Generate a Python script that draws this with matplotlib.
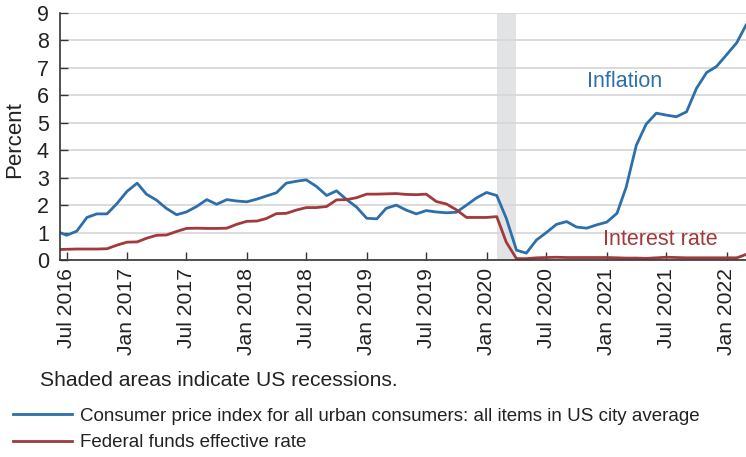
import numpy as np
import pandas as pd
import matplotlib
matplotlib.use("Agg")
import matplotlib.pyplot as plt
import matplotlib.dates as mdates

plt.rcParams['font.family'] = ['Liberation Sans', 'DejaVu Sans']

# monthly, Jun 2016 - Mar 2022
months = pd.date_range("2016-06-01", "2022-03-01", freq="MS")

cpi = [
    1.05, 0.90, 1.05, 1.55, 1.68, 1.68, 2.05,                                  # 2016
    2.50, 2.80, 2.40, 2.18, 1.88, 1.65, 1.75, 1.95, 2.20, 2.03, 2.20, 2.15,    # 2017
    2.12, 2.22, 2.33, 2.45, 2.80, 2.87, 2.92, 2.68, 2.35, 2.52, 2.20, 1.93,    # 2018
    1.52, 1.50, 1.88, 2.00, 1.82, 1.68, 1.80, 1.75, 1.72, 1.74, 2.00, 2.26,    # 2019
    2.46, 2.35, 1.52, 0.36, 0.25, 0.73, 1.00, 1.30, 1.40, 1.20, 1.16, 1.28,    # 2020
    1.38, 1.70, 2.65, 4.18, 4.95, 5.35, 5.28, 5.22, 5.40, 6.25, 6.83, 7.05,    # 2021
    7.48, 7.92, 8.56,                                                          # 2022
]

fedfunds = [
    0.38, 0.39, 0.40, 0.40, 0.40, 0.41, 0.54,
    0.65, 0.66, 0.79, 0.90, 0.91, 1.04, 1.15, 1.16, 1.15, 1.15, 1.16, 1.30,
    1.41, 1.42, 1.51, 1.69, 1.70, 1.82, 1.91, 1.91, 1.95, 2.19, 2.20, 2.27,
    2.40, 2.40, 2.41, 2.42, 2.39, 2.38, 2.40, 2.13, 2.04, 1.83, 1.55, 1.55,
    1.55, 1.58, 0.65, 0.05, 0.05, 0.08, 0.09, 0.10, 0.09, 0.09, 0.09, 0.09,
    0.09, 0.08, 0.07, 0.07, 0.06, 0.08, 0.10, 0.09, 0.08, 0.08, 0.08, 0.08,
    0.08, 0.08, 0.20,
]

recession_start = "2020-02-01"
recession_end = "2020-04-01"

blue = "#2c6fab"
red = "#a2393b"

fig = plt.figure(figsize=(7.46, 4.57), dpi=100)
ax = fig.add_axes([60/746, 1-260/457, 686/746, 247/457])

ax.axvspan(pd.Timestamp(recession_start), pd.Timestamp(recession_end),
           color="#e2e3e5", lw=0, zorder=0)
ax.plot(months, cpi, color=blue, lw=2,
        label="Consumer price index for all urban consumers: all items in US city average")
ax.plot(months, fedfunds, color=red, lw=2, label="Federal funds effective rate")

ax.set_xlim(pd.Timestamp("2016-06-11"), pd.Timestamp("2022-03-01"))
ax.set_ylim(0, 9)
ax.set_yticks(range(0, 10))
ax.grid(axis="y", color="#d6d6d6", lw=1.2)
ax.set_axisbelow(True)

ax.xaxis.set_major_locator(mdates.MonthLocator(bymonth=[1, 7]))
ax.xaxis.set_major_formatter(mdates.DateFormatter("%b %Y"))
ax.tick_params(axis="x", direction="in", length=6, width=1, color="#333333",
               labelsize=15.2, pad=6, labelrotation=90, labelcolor="#222222")
ax.tick_params(axis="y", direction="in", length=6, width=1, color="#333333",
               labelsize=15.5, pad=8, labelcolor="#222222")
for lbl in ax.get_xticklabels():
    lbl.set_verticalalignment("top")

for s in ["top", "right"]:
    ax.spines[s].set_visible(False)
for s in ["left", "bottom"]:
    ax.spines[s].set_color("#333333")
    ax.spines[s].set_linewidth(1.2)

ax.text(pd.Timestamp("2020-11-01"), 6.5, "Inflation", color=blue,
        fontsize=15.5, va="center", ha="left")
ax.text(pd.Timestamp("2020-12-20"), 0.73, "Interest rate", color=red,
        fontsize=15.5, va="center", ha="left")

fig.text(15/746, 1-140/457, "Percent", rotation=90, fontsize=16,
         ha="center", va="center", color="#222222")
fig.text(40/746, 1-381/457, "Shaded areas indicate US recessions.",
         fontsize=15.2, ha="left", va="center", color="#222222")

fig.legend(loc="upper left", bbox_to_anchor=(9/746, 1-404/457),
           frameon=False, fontsize=13.5, handlelength=3.15, handletextpad=0.43,
           labelspacing=0.49, borderpad=0.2, borderaxespad=0,
           labelcolor="#222222")

fig.savefig("out.png", dpi=100)
